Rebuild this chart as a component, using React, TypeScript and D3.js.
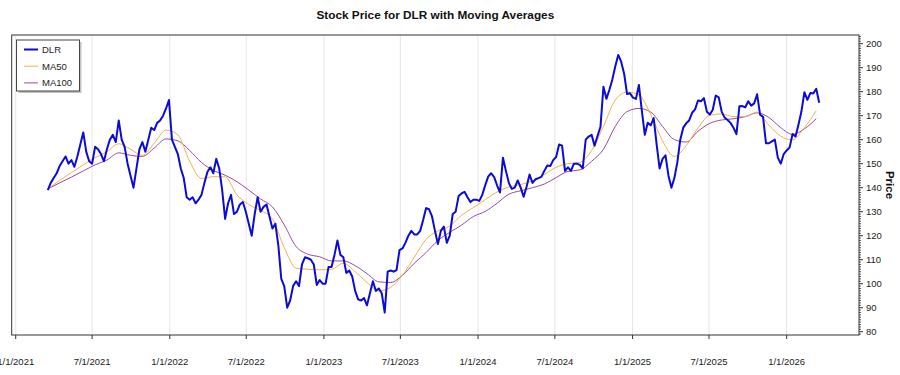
import React from "react";
import * as d3 from "d3";

const TITLE = "Stock Price for DLR with Moving Averages";
const Y_LABEL = "Price";
const SERIES_START = "2021-03-18"; // weekly closes
const DLR_WEEKLY = [
  139, 142, 144, 146, 149, 151, 153, 150, 151.5, 148.7,
  153, 158, 163, 155, 151, 150, 157, 156, 154, 151,
  156, 160, 162, 159, 168, 160, 157, 150, 145, 140,
  148, 156, 159, 155, 160, 165, 164, 167, 168, 170,
  173, 176.5, 160, 157, 154, 148, 144, 136, 135, 136,
  133.5, 135, 137, 142, 146.5, 148.5, 146, 152, 148, 139,
  127, 133.5, 137, 129, 130, 133, 134, 130, 125, 120,
  129, 136, 130, 132, 133, 128, 123, 125, 116, 102,
  99, 90, 93, 99, 101, 99, 108, 111, 110.6, 110,
  108, 99.5, 101.5, 100, 100, 107, 107, 112, 118, 112,
  111, 104.5, 105.5, 103, 97, 93.5, 93, 94, 91, 96,
  101, 97, 98, 96, 88, 105, 105.5, 105, 105.7, 114,
  114.7, 117, 120, 122, 120.5, 120.5, 122, 126.5, 131.5, 131,
  128, 122, 116.5, 122, 123.8, 117, 120, 129, 130, 136.5,
  137.6, 138.3, 136, 134, 135, 135, 134.5, 137, 141, 144.6,
  146, 144.5, 141, 138, 152.5, 147, 142, 139.5, 140, 143,
  140, 136.2, 140.4, 145.5, 142, 143.5, 144, 144.5, 147, 149.2,
  149, 151.5, 152.8, 158, 157.5, 147, 148.5, 147, 150, 150,
  149.5, 148, 160, 161.3, 162, 157.5, 161.5, 165.4, 182, 177,
  180.7, 185, 190.5, 195.3, 192.5, 187.5, 179, 179.3, 177.5, 177,
  182.8, 172, 162, 167, 166, 169, 158, 148, 152, 153.5,
  145, 140, 144, 150.5, 160, 165, 166.8, 168, 171.2, 172.6,
  176.3, 176, 177.3, 171.6, 170.5, 172.5, 178.4, 177.6, 171.7, 169.2,
  168.2, 167, 165, 162.3, 173.9, 174, 173.5, 176, 174.2, 175.1,
  178.9, 170.4, 169.5, 158.5, 158.5, 159.3, 160, 152.5, 150, 154,
  155.5, 156.8, 162.4, 161.3, 166.3, 171.8, 179.8, 176.6, 179.4, 179.2,
  181.2, 175.4,
];
const MA_STEP_WEEKS = 4; // moving averages read every 4 weeks
const MA50 = [
  139.5, 143, 146.3, 149.5, 152.5, 155, 158.3, 156, 153.5, 158.5,
  164, 162, 151, 143.8, 144.6, 144.5, 137, 133, 130.5, 127,
  115, 106.5, 106, 105.8, 106, 108.5, 105, 100.5, 97, 98.5,
  103.5, 111, 118.5, 122, 124, 128.5, 131.7, 135, 138.2, 140.3,
  141.3, 142.8, 145.5, 148.5, 150, 150.5, 155.5, 165.5, 176.5, 179.8,
  178.7, 170.5, 159.5, 153, 157.5, 164.9, 170.2, 170.7, 169.6, 169.6,
  171.5, 166, 161.5, 159.9, 165, 172,
];
const MA100 = [
  139.5, 142, 144.4, 147, 149.5, 151.5, 154.5, 153.5, 153, 156.5,
  160.3, 159.5, 155.5, 150.5, 147.2, 145.2, 142.5, 139, 135.3, 132,
  124.5, 115.5, 112.3, 111.2, 109.5, 109.5, 107.5, 104.2, 100.8, 100.5,
  103.5, 108.5, 113, 118, 121.4, 124.4, 128, 130.1, 133.5, 137.3,
  138.7, 140, 141.5, 144.2, 146.8, 147.4, 151, 156, 165.5, 171.7,
  173, 171.5, 165.5, 160, 159, 163.5, 166.8, 168.2, 168.7, 169.6,
  171.2, 169.2, 165, 162.2, 164.5, 168.7,
];
const X_TICK_LABELS = [
  "1/1/2021", "7/1/2021", "1/1/2022", "7/1/2022", "1/1/2023", "7/1/2023",
  "1/1/2024", "7/1/2024", "1/1/2025", "7/1/2025", "1/1/2026",
];
const Y_TICKS = [80, 90, 100, 110, 120, 130, 140, 150, 160, 170, 180, 190, 200];
const LEGEND = [
  { name: "DLR", color: "#0b0bd6", width: 2 },
  { name: "MA50", color: "#f5b04a", width: 1 },
  { name: "MA100", color: "#9a4aa6", width: 1 },
];

const FONT = "'Liberation Sans', Arial, sans-serif";

function parseMDY(s: string) {
  const [m, d, y] = s.split("/").map(Number);
  return new Date(y, m - 1, d);
}

export default function App() {
  const W = 900;
  const H = 375;
  const left = 11.7, right = 859, top = 35, bottom = 335;

  const start = d3.timeParse("%Y-%m-%d")(SERIES_START) as Date;
  const x = d3
    .scaleTime()
    .domain([new Date(2020, 11, 22, 12), new Date(2026, 5, 21, 7)])
    .range([left, right]);
  const y = d3.scaleLinear().domain([78.63, 203.6]).range([bottom, top]);

  const dlr = DLR_WEEKLY.map((v, i) => ({ d: d3.timeDay.offset(start, 7 * i), v }));
  const ma50 = MA50.map((v, i) => ({ d: d3.timeDay.offset(start, 7 * MA_STEP_WEEKS * i), v }));
  const ma100 = MA100.map((v, i) => ({ d: d3.timeDay.offset(start, 7 * MA_STEP_WEEKS * i), v }));

  const line = d3
    .line<{ d: Date; v: number }>()
    .x((p) => x(p.d))
    .y((p) => y(p.v));
  const smooth = d3
    .line<{ d: Date; v: number }>()
    .x((p) => x(p.d))
    .y((p) => y(p.v))
    .curve(d3.curveMonotoneX);

  const xTicks = X_TICK_LABELS.map((s) => ({ s, d: parseMDY(s) }));
  const minor = d3.range(79, 204, 1).filter((v) => v % 10 !== 0);

  return (
    <svg
      width={W}
      height={H}
      style={{ position: "absolute", left: 0, top: 0, background: "#fff" }}
      fontFamily={FONT}
    >
      <rect x={0} y={0} width={W} height={H} fill="#fff" />
      <text
        x={(left + right) / 2}
        y={19}
        textAnchor="middle"
        fontSize={11.8}
        fontWeight="bold"
        fill="#111"
      >
        {TITLE}
      </text>

      {/* vertical gridlines */}
      {xTicks.map((t) => (
        <line
          key={"g" + t.s}
          x1={x(t.d)}
          x2={x(t.d)}
          y1={top}
          y2={bottom}
          stroke="#e6e6e6"
          strokeWidth={1}
        />
      ))}

      {/* series */}
      <path d={smooth(ma100) || ""} fill="none" stroke={LEGEND[2].color} strokeWidth={1} />
      <path d={smooth(ma50) || ""} fill="none" stroke={LEGEND[1].color} strokeWidth={1} />
      <path
        d={line(dlr) || ""}
        fill="none"
        stroke={LEGEND[0].color}
        strokeWidth={2}
        strokeLinejoin="round"
      />

      {/* plot frame */}
      <rect
        x={left}
        y={top}
        width={right - left}
        height={bottom - top}
        fill="none"
        stroke="#333"
        strokeWidth={1}
      />

      {/* x axis ticks */}
      {xTicks.map((t) => (
        <g key={"x" + t.s}>
          <line x1={x(t.d)} x2={x(t.d)} y1={bottom} y2={bottom + 4} stroke="#333" />
          <text x={x(t.d)} y={365} textAnchor="middle" fontSize={9.5} fill="#222">
            {t.s}
          </text>
        </g>
      ))}

      {/* y axis (right) */}
      {minor.map((v) => (
        <line key={"m" + v} x1={right} x2={right + 2} y1={y(v)} y2={y(v)} stroke="#333" strokeWidth={0.8} />
      ))}
      {Y_TICKS.map((v) => (
        <g key={"y" + v}>
          <line x1={right} x2={right + 4} y1={y(v)} y2={y(v)} stroke="#333" />
          <text x={866} y={y(v) + 3.3} fontSize={9.5} fill="#222">
            {v}
          </text>
        </g>
      ))}
      <text
        transform={`translate(886,${(top + bottom) / 2}) rotate(90)`}
        textAnchor="middle"
        fontSize={11.5}
        fontWeight="bold"
        fill="#111"
      >
        {Y_LABEL}
      </text>

      {/* legend */}
      <rect x={18.5} y={42} width={63} height={51} fill="#9a9a9a" opacity={0.6} />
      <rect x={16.5} y={40} width={63} height={51} fill="#fff" stroke="#444" strokeWidth={1} />
      {LEGEND.map((l, i) => (
        <g key={l.name}>
          <line x1={24} x2={38} y1={49.5 + i * 16.7} y2={49.5 + i * 16.7} stroke={l.color} strokeWidth={l.width} />
          <text x={42} y={52.8 + i * 16.7} fontSize={9.5} fill="#222">
            {l.name}
          </text>
        </g>
      ))}
    </svg>
  );
}
